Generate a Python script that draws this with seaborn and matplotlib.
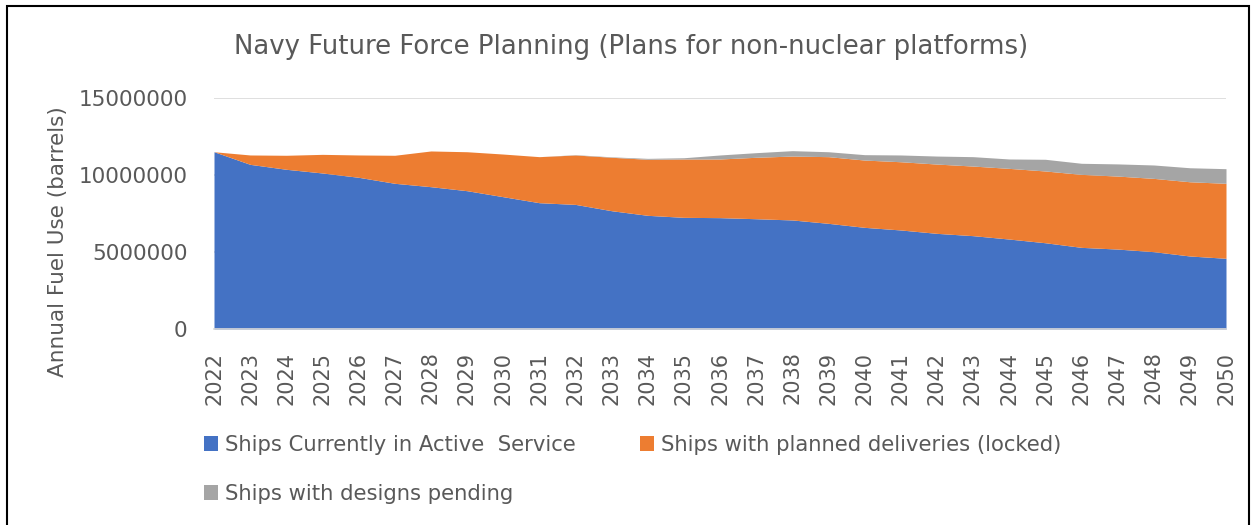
import matplotlib
matplotlib.use("Agg")
import matplotlib.pyplot as plt
from matplotlib.patches import Patch, Rectangle
import seaborn as sns
import numpy as np

years = list(range(2022, 2051))
active_service = [11.53, 10.71, 10.39, 10.15, 9.87, 9.48, 9.26, 9.00, 8.61, 8.22,
                  8.11, 7.70, 7.40, 7.27, 7.25, 7.18, 7.10, 6.88, 6.62, 6.45,
                  6.23, 6.08, 5.86, 5.62, 5.32, 5.21, 5.04, 4.76, 4.61]
planned_locked = [0.00, 0.61, 0.91, 1.21, 1.45, 1.82, 2.32, 2.53, 2.77, 2.99,
                  3.21, 3.47, 3.64, 3.79, 3.81, 3.99, 4.15, 4.33, 4.37, 4.43,
                  4.50, 4.52, 4.59, 4.66, 4.74, 4.74, 4.76, 4.82, 4.87]
designs_pending = [0.00, 0.00, 0.00, 0.00, 0.00, 0.00, 0.00, 0.00, 0.00, 0.00,
                   0.02, 0.03, 0.06, 0.08, 0.26, 0.30, 0.35, 0.32, 0.35, 0.44,
                   0.52, 0.61, 0.61, 0.76, 0.72, 0.79, 0.87, 0.91, 0.95]
series_names = ["Ships Currently in Active  Service",
                "Ships with planned deliveries (locked)",
                "Ships with designs pending"]
colors = ["#4472C4", "#ED7D31", "#A5A5A5"]
title = "Navy Future Force Planning (Plans for non-nuclear platforms)"
ylabel = "Annual Fuel Use (barrels)"
yticks = [0, 5000000, 10000000, 15000000]

sns.set_theme(style="white")
plt.rcParams['font.family'] = ['DejaVu Sans']
text_color = "#595959"

W, H = 1257, 525
fig = plt.figure(figsize=(W / 100, H / 100), dpi=100)
ax = fig.add_axes([214 / W, 1 - 329.3 / H, (1226 - 214) / W, (329.3 - 98.3) / H])

scale = 1e6
ys = [np.array(active_service) * scale, np.array(planned_locked) * scale,
      np.array(designs_pending) * scale]
ax.stackplot(years, *ys, colors=colors, labels=series_names, zorder=2, linewidth=0)

ax.set_xlim(years[0], years[-1])
ax.set_ylim(0, 15000000)
ax.set_yticks(yticks)
ax.set_yticklabels([str(v) for v in yticks], fontsize=15.5, color=text_color)
ax.set_xticks(years)
ax.set_xticklabels([str(y) for y in years], rotation=90, fontsize=15, color=text_color)
ax.tick_params(axis='both', length=0)
ax.tick_params(axis='y', pad=19.2)
ax.tick_params(axis='x', pad=16)
ax.grid(axis='y', color="#D9D9D9", linewidth=1.2, zorder=0)
ax.grid(axis='x', visible=False)
sns.despine(ax=ax, left=True, top=True, right=True, bottom=False)
ax.spines['bottom'].set_color("#D9D9D9")
ax.spines['bottom'].set_linewidth(1.2)
ax.spines['bottom'].set_zorder(3)
ax.set_facecolor("white")

fig.text(631 / W, 1 - 47 / H, title, ha='center', va='center', fontsize=18.7, color=text_color)
fig.text(58 / W, 1 - 242 / H, ylabel, ha='center', va='center', rotation=90,
         fontsize=15.5, color=text_color)

handles = [Patch(facecolor=c, edgecolor='none') for c in colors]
order = [0, 2, 1]
leg = fig.legend([handles[i] for i in order], [series_names[i] for i in order],
                 ncol=2, loc='upper left', bbox_to_anchor=(204 / W, 1 - 435 / H),
                 frameon=False, fontsize=15.2, handlelength=0.68, handleheight=0.68,
                 handletextpad=0.32, columnspacing=3.04, labelspacing=1.38,
                 borderaxespad=0, borderpad=0)
for t in leg.get_texts():
    t.set_color(text_color)

border = Rectangle((7 / W, -0.02), (1249 - 7) / W, 1.02 - 6 / H, transform=fig.transFigure,
                   fill=False, edgecolor='black', linewidth=1.5, clip_on=False)
fig.add_artist(border)

fig.savefig("out.png", dpi=100, facecolor='white')
